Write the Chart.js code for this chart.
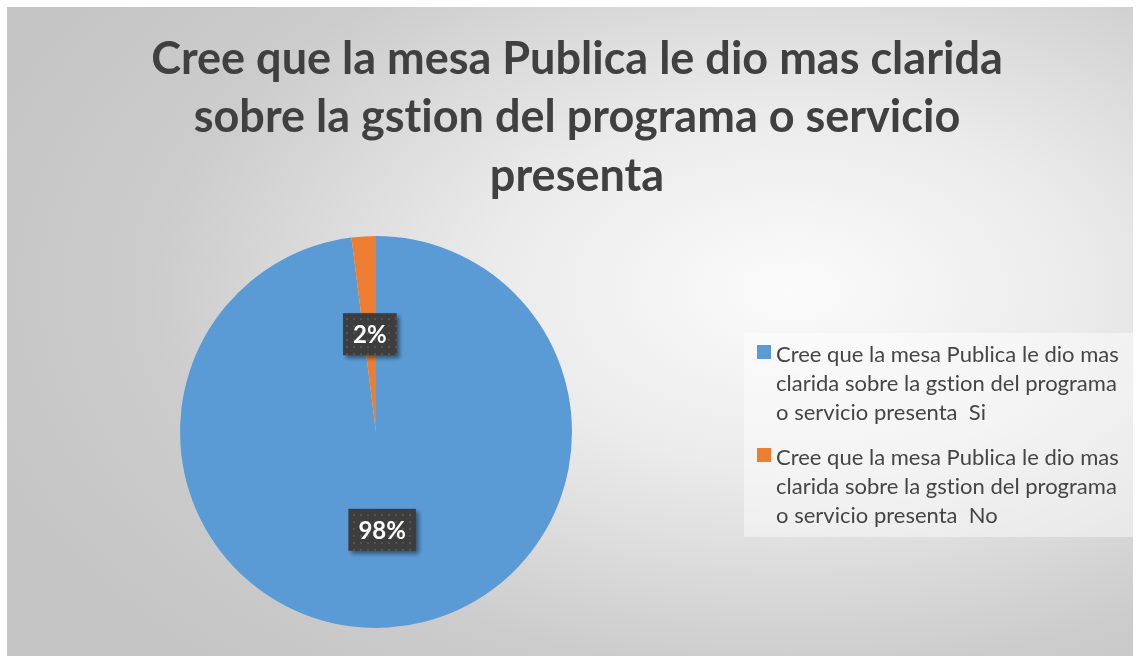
<!DOCTYPE html>
<html>
<head>
<meta charset="utf-8">
<script src="https://cdn.jsdelivr.net/npm/chart.js@4.4.1/dist/chart.umd.min.js"></script>
<style>
    html, body { margin: 0; padding: 0; background: #fff; }
    #wrap { width: 1139px; height: 656px; position: relative; }
</style>
</head>
<body>
<div id="wrap"><canvas id="pieChart"></canvas></div>
<script>
// chart data
const titleLines = [
    "Cree que la mesa Publica le dio mas clarida",
    "sobre la gstion del programa o servicio",
    "presenta"
];
const categories = [
    "Cree que la mesa Publica le dio mas clarida sobre la gstion del programa o servicio presenta  Si",
    "Cree que la mesa Publica le dio mas clarida sobre la gstion del programa o servicio presenta  No"
];
const values = [98, 2];
const colors = ["#5B9BD5", "#ED7D31"];

/*
=====================================
PLUGINS
=====================================
*/

function noLigatures(ctx) {
    // Lato joins "ti" into one glyph, the original font does not
    if ("letterSpacing" in ctx) {
        ctx.letterSpacing = "0.01px";
    }
    if ("textRendering" in ctx) {
        ctx.textRendering = "optimizeSpeed";
    }
}

const backgroundPlugin = {
    id: "frameBackground",
    beforeDraw(chart) {
        const ctx = chart.ctx;
        ctx.save();
        ctx.fillStyle = "#ffffff";
        ctx.fillRect(0, 0, chart.width, chart.height);
        ctx.beginPath();
        ctx.rect(7, 7, 1126, 649);
        ctx.clip();
        ctx.translate(790, 290);
        ctx.scale(1, 0.6);
        const g = ctx.createRadialGradient(0, 0, 0, 0, 0, 850);
        g.addColorStop(0, "#fbfbfb");
        g.addColorStop(0.35, "#ebebeb");
        g.addColorStop(0.75, "#cccccc");
        g.addColorStop(1, "#c5c5c5");
        ctx.fillStyle = g;
        ctx.fillRect(-1000, -1200, 2200, 2400);
        ctx.restore();
    }
};

const titlePlugin = {
    id: "bigTitle",
    afterDraw(chart) {
        const ctx = chart.ctx;
        ctx.save();
        noLigatures(ctx);
        ctx.font = "bold 45px Lato";
        ctx.fillStyle = "#404040";
        ctx.textAlign = "center";
        ctx.textBaseline = "alphabetic";
        const baselines = [74, 132, 191];
        titleLines.forEach((line, i) => ctx.fillText(line, 577, baselines[i]));
        ctx.restore();
    }
};

function dotPattern(ctx) {
    const c = document.createElement("canvas");
    c.width = 7;
    c.height = 7;
    const p = c.getContext("2d");
    p.fillStyle = "#3d3d3d";
    p.fillRect(0, 0, 7, 7);
    p.fillStyle = "#525252";
    p.fillRect(3, 3, 2, 2);
    return ctx.createPattern(c, "repeat");
}

const labelPlugin = {
    id: "percentLabels",
    afterDatasetsDraw(chart) {
        const ctx = chart.ctx;
        const meta = chart.getDatasetMeta(0);
        const total = values.reduce((a, b) => a + b, 0);
        ctx.save();
        ctx.font = "bold 24px Lato";
        ctx.textAlign = "center";
        ctx.textBaseline = "middle";
        meta.data.forEach((arc, i) => {
            const pos = arc.tooltipPosition();
            const text = Math.round(values[i] / total * 100) + "%";
            const w = ctx.measureText(text).width + 20;
            const h = 42;
            ctx.save();
            ctx.shadowColor = "rgba(0,0,0,0.45)";
            ctx.shadowBlur = 4;
            ctx.shadowOffsetX = 3;
            ctx.shadowOffsetY = 3;
            ctx.fillStyle = dotPattern(ctx);
            ctx.fillRect(pos.x - w / 2, pos.y - h / 2, w, h);
            ctx.restore();
            ctx.fillStyle = "#ffffff";
            ctx.fillText(text, pos.x, pos.y + 1);
        });
        ctx.restore();
    }
};

function wrapText(ctx, text, maxWidth) {
    const words = text.split(" ");
    const lines = [];
    let line = "";
    words.forEach(word => {
        const test = line ? line + " " + word : word;
        if (ctx.measureText(test).width > maxWidth && line) {
            lines.push(line);
            line = word;
        } else {
            line = test;
        }
    });
    lines.push(line);
    return lines;
}

const legendPlugin = {
    id: "sideLegend",
    afterDraw(chart) {
        const ctx = chart.ctx;
        ctx.save();
        noLigatures(ctx);
        ctx.fillStyle = "rgba(255,255,255,0.45)";
        ctx.fillRect(744, 333, 389, 204);
        ctx.font = "22px Lato";
        ctx.textAlign = "left";
        ctx.textBaseline = "alphabetic";
        let baseline = 362;
        chart.data.labels.forEach((label, i) => {
            ctx.fillStyle = colors[i];
            ctx.fillRect(757, baseline - 17, 14, 14);
            ctx.fillStyle = "#454545";
            const lines = wrapText(ctx, label.replace("  ", " \u00a0"), 356);
            lines.forEach(line => {
                ctx.fillText(line, 776, baseline);
                baseline += 29;
            });
            baseline += 16;
        });
        ctx.restore();
    }
};

/*
=====================================
CHART
=====================================
*/

new Chart(document.getElementById("pieChart"), {
    type: "pie",
    data: {
        labels: categories,
        datasets: [{
            data: values,
            backgroundColor: colors,
            borderWidth: 0,
            hoverOffset: 0
        }]
    },
    options: {
        responsive: true,
        maintainAspectRatio: false,
        animation: false,
        layout: {
            padding: { left: 180, right: 567, top: 236, bottom: 28 }
        },
        plugins: {
            legend: { display: false },
            title: { display: false },
            tooltip: { enabled: false }
        }
    },
    plugins: [backgroundPlugin, titlePlugin, labelPlugin, legendPlugin]
});
</script>
</body>
</html>
